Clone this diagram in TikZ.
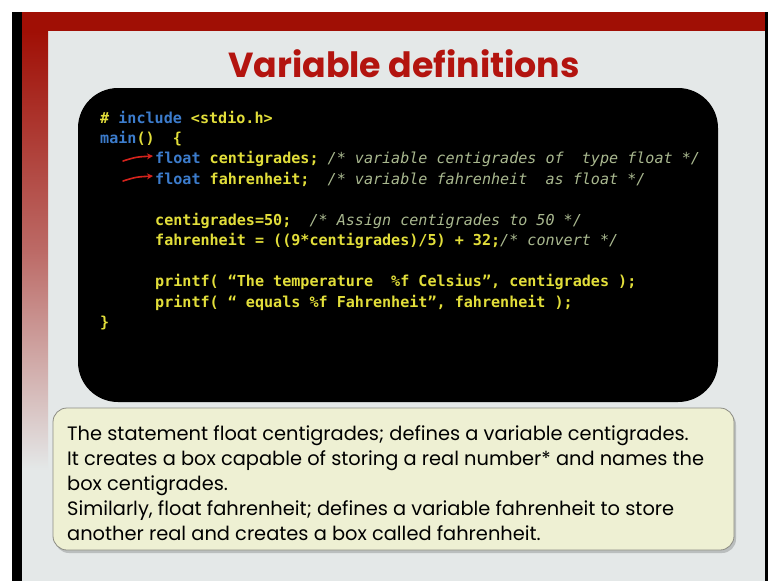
\documentclass[tikz,border=0pt]{standalone}
\usepackage{fontspec}
\setmainfont{Poppins}
\newfontfamily\codefont{DejaVu Sans Mono}
\usetikzlibrary{arrows.meta}
\definecolor{slidebg}{HTML}{E4E8E8}
\definecolor{barred}{HTML}{A00F05}
\definecolor{fadered}{HTML}{BC6A66}
\definecolor{titlered}{HTML}{B3140F}
\definecolor{codeyel}{HTML}{E2DE3A}
\definecolor{codeblue}{HTML}{3C7CCC}
\definecolor{codecom}{HTML}{A9B88F}
\definecolor{notefill}{HTML}{EEF0D3}
\definecolor{noteedge}{HTML}{8C8C84}
\definecolor{arrowred}{HTML}{D4231C}
\newcommand\kw[1]{\textcolor{codeblue}{#1}}
\newcommand\cmt[1]{{\mdseries\itshape\textcolor{codecom}{#1}}}
\tikzset{
 codeline/.style={anchor=base west, inner sep=0pt, text=codeyel, font=\codefont\bfseries\fontsize{15.08}{18}\selectfont},
 notetext/.style={anchor=base west, inner sep=0pt, text=black, font=\fontsize{19.4}{22}\selectfont},
 redhook/.style={draw=arrowred, line width=1.6pt, -{Stealth[length=6pt,width=6pt]}, line cap=round},
}
\begin{document}
\begin{tikzpicture}[x=1pt,y=-1pt]
\useasboundingbox (0,0) rectangle (768,581);
% frame
\fill[white] (0,0) rectangle (768,581);
\fill[black] (12,12) rectangle (22,581);
\fill[black] (765,12) rectangle (768,581);
\fill[slidebg] (22,12) rectangle (765,581);
\shade[top color=barred, bottom color=slidebg, middle color=fadered] (22,31) rectangle (48,470);
\fill[barred] (22,12) rectangle (765,31);
% title
\node[anchor=base, inner sep=0pt, text=titlered, font=\bfseries\fontsize{34.8}{40}\selectfont] (title) at (404,77) {Variable definitions};
% code box
\fill[black, rounded corners=40pt] (78,88) rectangle (718,402);
\node[codeline] (l1) at (100,123) {\# \kw{include} <stdio.h>};
\node[codeline] (l2) at (100,143.45) {\kw{main}()~~\{};
\node[codeline] (l3) at (155,163.9) {\kw{float} centigrades; \cmt{/* variable centigrades of~~type float */}};
\node[codeline] (l4) at (155,184.35) {\kw{float} fahrenheit;~~\cmt{/* variable fahrenheit~~as float */}};
\node[codeline] (l5) at (155,225.25) {centigrades=50;~~\cmt{/* Assign centigrades to 50 */}};
\node[codeline] (l6) at (155,245.7) {fahrenheit = ((9*centigrades)/5) + 32;\cmt{/* convert */}};
\node[codeline] (l7) at (155,286.6) {printf( “The temperature~~\%f Celsius”, centigrades );};
\node[codeline] (l8) at (155,307.05) {printf( “ equals \%f Fahrenheit”, fahrenheit );};
\node[codeline] (l9) at (100,327.5) {\}};
% red arrows
\coordinate (a1s) at (123,161);
\coordinate (a1e) at (153,156);
\coordinate (a2s) at (123,181);
\coordinate (a2e) at (153,176);
\draw[redhook] (a1s) .. controls (136,157) .. (a1e);
\draw[redhook] (a2s) .. controls (136,177) .. (a2e);
% note box
\fill[black, opacity=0.18, rounded corners=14pt] (55,411) rectangle (736,553);
\draw[fill=notefill, draw=noteedge, line width=0.8pt, rounded corners=14pt] (53,408) rectangle (734,550);
\node[notetext] (n1) at (67,440) {The statement float centigrades; defines a variable centigrades.};
\node[notetext] (n2) at (67,465) {It creates a box capable of storing a real number* and names the};
\node[notetext] (n3) at (67,490) {box centigrades.};
\node[notetext] (n4) at (67,515) {Similarly, float fahrenheit; defines a variable fahrenheit to store};
\node[notetext] (n5) at (67,540) {another real and creates a box called fahrenheit.};
\end{tikzpicture}
\end{document}
